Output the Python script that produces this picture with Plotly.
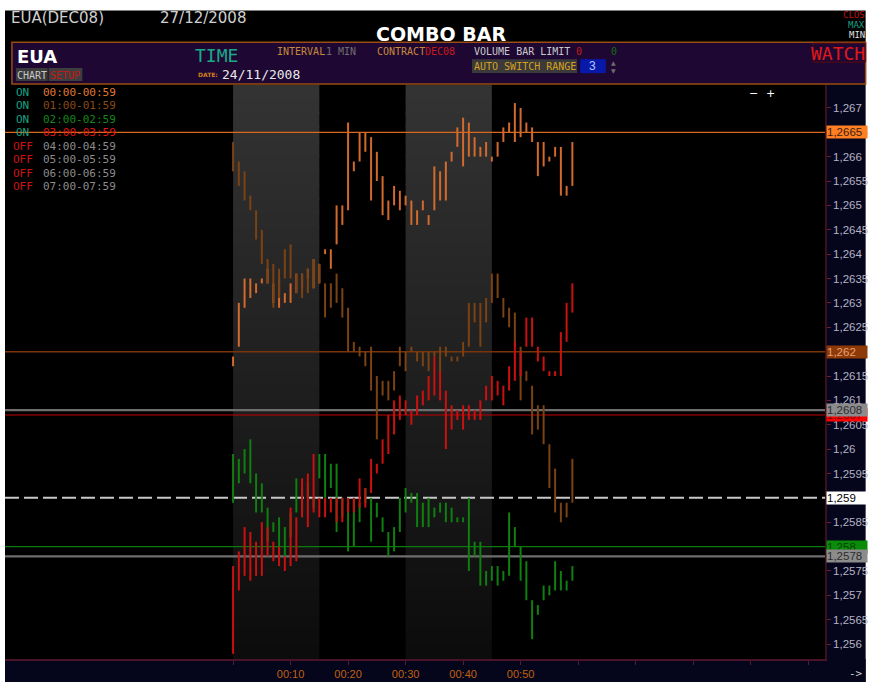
import plotly.graph_objects as go

# ---------------- data ----------------
MINUTES = list(range(60))

H0_LOW = [1.2617, 1.2621, 1.2629, 1.2631, 1.2632, 1.2634, 1.2634, 1.2630, 1.2629, 1.2630,
          1.2630, 1.2632, 1.2633, 1.2635, 1.2633, 1.2634, 1.2640, 1.2637, 1.2642, 1.2646,
          1.2649, 1.2657, 1.2659, 1.2661, 1.2651, 1.2655, 1.2648, 1.2647, 1.2650, 1.2649,
          1.2650, 1.2646, 1.2646, 1.2649, 1.2646, 1.2649, 1.2651, 1.2651, 1.2659, 1.2662,
          1.2658, 1.2660, 1.2660, 1.2660, 1.2660, 1.2659, 1.2660, 1.2663, 1.2665, 1.2663,
          1.2664, 1.2665, 1.2663, 1.2656, 1.2658, 1.2659, 1.2660, 1.2652, 1.2652, 1.2654]
H0_HIGH = [1.2619, 1.2630, 1.2635, 1.2635, 1.2634, 1.2635, 1.2637, 1.2634, 1.2635, 1.2632,
           1.2634, 1.2636, 1.2636, 1.2637, 1.2639, 1.2638, 1.2641, 1.2641, 1.2650, 1.2650,
           1.2667, 1.2659, 1.2665, 1.2665, 1.2664, 1.2661, 1.2656, 1.2651, 1.2654, 1.2653,
           1.2652, 1.2651, 1.2649, 1.2651, 1.2648, 1.2658, 1.2657, 1.2659, 1.2661, 1.2666,
           1.2668, 1.2667, 1.2664, 1.2662, 1.2663, 1.2660, 1.2663, 1.2666, 1.2667, 1.2671,
           1.2670, 1.2667, 1.2666, 1.2663, 1.2663, 1.2660, 1.2662, 1.2662, 1.2654, 1.2663]

H1_LOW = [1.2657, 1.2654, 1.2651, 1.2649, 1.2643, 1.2638, 1.2634, 1.2629, 1.2631, 1.2635,
          1.2635, 1.2632, 1.2631, 1.2632, 1.2633, 1.2634, 1.2627, 1.2629, 1.2630, 1.2627,
          1.2620, 1.2620, 1.2619, 1.2617, 1.2612, 1.2602, 1.2611, 1.2610, 1.2612, 1.2617,
          1.2616, 1.2620, 1.2618, 1.2617, 1.2616, 1.2619, 1.2616, 1.2619, 1.2618, 1.2618,
          1.2619, 1.2621, 1.2626, 1.2621, 1.2626, 1.2630, 1.2631, 1.2627, 1.2625, 1.2621,
          1.2610, 1.2614, 1.2603, 1.2604, 1.2601, 1.2592, 1.2587, 1.2585, 1.2586, 1.2589]
H1_HIGH = [1.2663, 1.2659, 1.2657, 1.2652, 1.2649, 1.2645, 1.2639, 1.2638, 1.2637, 1.2641,
           1.2642, 1.2636, 1.2636, 1.2637, 1.2639, 1.2638, 1.2634, 1.2634, 1.2636, 1.2633,
           1.2629, 1.2622, 1.2621, 1.2620, 1.2621, 1.2615, 1.2614, 1.2614, 1.2616, 1.2621,
           1.2620, 1.2621, 1.2620, 1.2620, 1.2620, 1.2620, 1.2621, 1.2621, 1.2619, 1.2619,
           1.2622, 1.2630, 1.2630, 1.2630, 1.2631, 1.2636, 1.2636, 1.2631, 1.2629, 1.2628,
           1.2621, 1.2616, 1.2613, 1.2609, 1.2609, 1.2601, 1.2596, 1.2589, 1.2589, 1.2598]

H2_LOW = [1.2589, 1.2593, 1.2595, 1.2593, 1.2587, 1.2587, 1.2581, 1.2583, 1.2578, 1.2578,
          1.2582, 1.2587, 1.2587, 1.2590, 1.2588, 1.2594, 1.2590, 1.2592, 1.2583, 1.2586,
          1.2579, 1.2580, 1.2585, 1.2589, 1.2581, 1.2586, 1.2583, 1.2578, 1.2579, 1.2583,
          1.2587, 1.2589, 1.2584, 1.2584, 1.2584, 1.2586, 1.2587, 1.2585, 1.2585, 1.2585,
          1.2585, 1.2575, 1.2578, 1.2572, 1.2572, 1.2573, 1.2572, 1.2573, 1.2574, 1.2580,
          1.2573, 1.2569, 1.2561, 1.2566, 1.2569, 1.2570, 1.2571, 1.2571, 1.2571, 1.2573]
H2_HIGH = [1.2599, 1.2598, 1.2600, 1.2602, 1.2595, 1.2593, 1.2588, 1.2585, 1.2586, 1.2584,
           1.2587, 1.2594, 1.2592, 1.2593, 1.2590, 1.2599, 1.2599, 1.2597, 1.2597, 1.2590,
           1.2589, 1.2590, 1.2589, 1.2592, 1.2590, 1.2589, 1.2586, 1.2583, 1.2584, 1.2590,
           1.2592, 1.2591, 1.2591, 1.2589, 1.2590, 1.2588, 1.2589, 1.2589, 1.2588, 1.2586,
           1.2586, 1.2590, 1.2581, 1.2581, 1.2575, 1.2576, 1.2576, 1.2575, 1.2587, 1.2584,
           1.2580, 1.2577, 1.2569, 1.2568, 1.2572, 1.2572, 1.2577, 1.2575, 1.2573, 1.2576]

H3_LOW = [1.2558, 1.2571, 1.2574, 1.2573, 1.2574, 1.2574, 1.2578, 1.2577, 1.2576, 1.2575,
          1.2576, 1.2577, 1.2586, 1.2584, 1.2587, 1.2586, 1.2586, 1.2587, 1.2585, 1.2585,
          1.2587, 1.2587, 1.2588, 1.2588, 1.2591, 1.2595, 1.2597, 1.2599, 1.2603, 1.2606,
          1.2607, 1.2605, 1.2607, 1.2609, 1.2610, 1.2611, 1.2610, 1.2600, 1.2604, 1.2606,
          1.2604, 1.2606, 1.2606, 1.2606, 1.2610, 1.2610, 1.2611, 1.2609, 1.2612, 1.2614,
          1.2615, 1.2621, 1.2621, 1.2618, 1.2616, 1.2615, 1.2615, 1.2615, 1.2622, 1.2628]
H3_HIGH = [1.2576, 1.2579, 1.2584, 1.2583, 1.2581, 1.2585, 1.2584, 1.2581, 1.2580, 1.2578,
           1.2588, 1.2586, 1.2594, 1.2595, 1.2599, 1.2590, 1.2590, 1.2590, 1.2590, 1.2590,
           1.2590, 1.2590, 1.2594, 1.2592, 1.2598, 1.2597, 1.2602, 1.2607, 1.2610, 1.2611,
           1.2610, 1.2608, 1.2611, 1.2612, 1.2615, 1.2619, 1.2616, 1.2612, 1.2609, 1.2608,
           1.2609, 1.2609, 1.2608, 1.2610, 1.2613, 1.2615, 1.2614, 1.2613, 1.2617, 1.2622,
           1.2620, 1.2627, 1.2627, 1.2621, 1.2619, 1.2616, 1.2616, 1.2624, 1.2630, 1.2634]

SERIES_LOW = [H0_LOW, H1_LOW, H2_LOW, H3_LOW]
SERIES_HIGH = [H0_HIGH, H1_HIGH, H2_HIGH, H3_HIGH]
SERIES_COLORS = ["#d2692d", "#7b4213", "#0f7f0f", "#cc1010"]

SESSIONS = ["00:00-00:59", "01:00-01:59", "02:00-02:59", "03:00-03:59",
            "04:00-04:59", "05:00-05:59", "06:00-06:59", "07:00-07:59"]
SESSION_STATE = ["ON", "ON", "ON", "ON", "OFF", "OFF", "OFF", "OFF"]
SESSION_COLORS = ["#e07a32", "#8a4a12", "#138a13", "#e01414",
                  "#8c8c8c", "#8c8c8c", "#8c8c8c", "#8c8c8c"]

BAND_SPANS = [(0, 15), (30, 45)]

X_TICKS = [0, 10, 20, 30, 40, 50, 60, 70, 80, 90, 100]
X_TICKTEXT = ["", "00:10", "00:20", "00:30", "00:40", "00:50", "", "", "", "", ""]

Y_TICKS = [1.256, 1.2565, 1.257, 1.2575, 1.258, 1.2585, 1.259, 1.2595, 1.26, 1.2605,
           1.261, 1.2615, 1.262, 1.2625, 1.263, 1.2635, 1.264, 1.2645, 1.265, 1.2655,
           1.266, 1.2665, 1.267]
Y_TICKTEXT = ["1,256", "1,2565", "1,257", "1,2575", "1,258", "1,2585", "1,259", "1,2595",
              "1,26", "1,2605", "1,261", "1,2615", "1,262", "1,2625", "1,263", "1,2635",
              "1,264", "1,2645", "1,265", "1,2655", "1,266", "1,2665", "1,267"]

# price levels (drawn in this order)
LEVELS = [1.2665, 1.262, 1.2607, 1.2608, 1.259, 1.258, 1.2578]
LEVEL_TEXT = ["1,2665", "1,262", "1,2607", "1,2608", "1,259", "1,258", "1,2578"]
LEVEL_LINE = ["#d8681e", "#7a3408", "#c00000", "#6e6e6e", "#c8c8c8", "#0c7a0c", "#6e6e6e"]
LEVEL_WIDTH = [1.2, 1.5, 1.2, 2.2, 2, 1.2, 2.2]
LEVEL_DASH = ["solid", "solid", "solid", "solid", "14px,5px", "solid", "solid"]
LEVEL_BOX = ["#ff7f22", "#8e3a08", "#ff0000", "#8c8c8c", "#ffffff", "#0a8c0a", "#8c8c8c"]
LEVEL_FONT = ["#3c2010", "#e8a070", "#700000", "#2c2c2c", "#000000", "#064006", "#2c2c2c"]

X_RANGE = [-39.66, 102.93]
Y_RANGE = [1.255694, 1.26747]

# ---------------- geometry helpers (page pixels -> paper) ----------------
W, H = 873, 685
L, R, T, B = 5, 832, 85, 662


def PX(x):
    return (x - L) / (R - L)


def PY(y):
    return (B - y) / (B - T)


MONO = "DejaVu Sans Mono"
SANS = "DejaVu Sans"
ARIAL = "Liberation Sans"

fig = go.Figure()

# bars
for lows, highs, col in zip(SERIES_LOW, SERIES_HIGH, SERIES_COLORS):
    xs, ys = [], []
    for m, lo, hi in zip(MINUTES, lows, highs):
        xs += [m, m, None]
        ys += [lo, hi, None]
    fig.add_trace(go.Scatter(x=xs, y=ys, mode="lines", line=dict(color=col, width=2),
                             hoverinfo="skip", showlegend=False))

shapes = []
# header / frame pieces (kept inside the page)
shapes.append(dict(type="rect", xref="paper", yref="paper", x0=PX(5), x1=PX(W), y0=PY(T), y1=PY(10),
                   fillcolor="#000000", line=dict(width=0), layer="below"))
shapes.append(dict(type="rect", xref="paper", yref="paper", x0=PX(12), x1=PX(W), y0=PY(84), y1=PY(42),
                   fillcolor="#1e0833", line=dict(color="#9a4c12", width=1.5), layer="below"))
shapes.append(dict(type="rect", xref="paper", yref="paper", x0=PX(832), x1=PX(W), y0=PY(H), y1=PY(T),
                   fillcolor="#05051c", line=dict(width=0), layer="below"))
shapes.append(dict(type="rect", xref="paper", yref="paper", x0=PX(5), x1=PX(W), y0=PY(H), y1=PY(B),
                   fillcolor="#05051c", line=dict(width=0), layer="below"))
for x0, x1, col in [(16, 48, "#3a3a3a"), (49, 83, "#3e3e3e"), (476, 582, "#3a3a3a"), (585, 611, "#0818a8")]:
    y0, y1 = (81, 68) if x0 < 100 else (73, 59)
    shapes.append(dict(type="rect", xref="paper", yref="paper", x0=PX(x0), x1=PX(x1), y0=PY(y0), y1=PY(y1),
                       fillcolor=col, line=dict(width=0), layer="above"))
shapes.append(dict(type="rect", xref="paper", yref="paper", x0=PX(820), x1=PX(W), y0=PY(62), y1=PY(43),
                   fillcolor="rgba(0,0,0,0)", line=dict(color="#5a0a10", width=1), layer="above"))

# gradient bands
N = 40
for a, b in BAND_SPANS:
    for i in range(N):
        g = int(12 + (52 - 12) * (i + 0.5) / N)
        shapes.append(dict(type="rect", xref="x", yref="paper", x0=a, x1=b,
                           y0=i / N, y1=min(1, (i + 1) / N + 0.003),
                           fillcolor=f"rgb({g},{g},{g})", line=dict(width=0), layer="below"))

# level lines
for lvl, col, w, d in zip(LEVELS, LEVEL_LINE, LEVEL_WIDTH, LEVEL_DASH):
    shapes.append(dict(type="line", xref="paper", yref="y", x0=0, x1=1, y0=lvl, y1=lvl,
                       line=dict(color=col, width=w, dash=d), layer="below"))

ann = []


def txt(x, y, s, color, size, family=MONO, xanchor="left"):
    ann.append(dict(x=PX(x), y=PY(y), xref="paper", yref="paper", xanchor=xanchor, yanchor="middle",
                    text=s, showarrow=False, font=dict(color=color, size=size, family=family)))


# header texts
txt(9, 18, "EUA(DEC08)", "#d0d0d0", 15, SANS)
txt(159, 18, "27/12/2008", "#d0d0d0", 15, SANS)
txt(445, 34, "<b>COMBO BAR</b>", "#ffffff", 19, SANS, "center")
txt(15, 56, "<b>EUA</b>", "#ffffff", 18, SANS)
txt(32, 75, "CHART", "#c8c8c8", 10, MONO, "center")
txt(66, 75, "SETUP", "#c81818", 10, MONO, "center")
txt(195, 55, "TIME", "#1aaa8a", 18, MONO)
txt(198, 74, "<b>DATE:</b>", "#d08020", 6, SANS)
txt(222, 74, "24/11/2008", "#e8e8e8", 13, MONO)
txt(277, 51, "INTERVAL", "#c8883a", 10, MONO)
txt(327, 51, "1 MIN", "#6e6e6e", 10, MONO)
txt(378, 51, "CONTRACT", "#c8883a", 10, MONO)
txt(427, 51, "DEC08", "#c81818", 10, MONO)
txt(476, 51, "VOLUME BAR LIMIT", "#c8c8c8", 10, MONO)
txt(579, 51, "0", "#c81818", 10, MONO)
txt(614, 51, "0", "#107010", 10, MONO)
txt(476, 66, "AUTO SWITCH RANGE", "#d8a020", 10, MONO)
txt(598, 66, "3", "#b0c8ff", 12, ARIAL, "center")
txt(619, 62, "▲", "#6e6e6e", 6, SANS, "center")
txt(619, 70, "▼", "#6e6e6e", 6, SANS, "center")
txt(874, 53, "WATCH", "#e01818", 18, MONO, "right")
txt(874, 15, "CLOS", "#c01010", 9, MONO, "right")
txt(874, 25, "MAX", "#18a080", 9, MONO, "right")
txt(874, 35, "MIN", "#e0e0e0", 9, MONO, "right")
txt(760, 94, "−", "#ffffff", 11, SANS, "center")
txt(777, 94, "+", "#ffffff", 11, SANS, "center")
txt(854, 677, "->", "#d0d0d0", 11, MONO)

# session legend
for i, (state, label, col) in enumerate(zip(SESSION_STATE, SESSIONS, SESSION_COLORS)):
    y = 92.5 + i * 13.5
    txt(23, y, state, "#18a080" if state == "ON" else "#d01010", 11, MONO, "center")
    txt(41, y, label, col, 11, MONO)

# level boxes on price axis
for lvl, s, bg, fc in zip(LEVELS, LEVEL_TEXT, LEVEL_BOX, LEVEL_FONT):
    ann.append(dict(x=PX(833), y=lvl, xref="paper", yref="y", xanchor="left", yanchor="middle",
                    text=s, showarrow=False, bgcolor=bg, width=40, height=12, align="left", borderpad=0,
                    font=dict(color=fc, size=11.5, family=ARIAL)))

fig.update_layout(
    width=W, height=H, autosize=False,
    margin=dict(l=L, r=W - R, t=T, b=H - B, pad=0),
    paper_bgcolor="#ffffff", plot_bgcolor="#000000",
    showlegend=False, shapes=shapes, annotations=ann,
    xaxis=dict(range=X_RANGE, tickvals=X_TICKS, ticktext=X_TICKTEXT, showgrid=False, zeroline=False,
               showline=True, linecolor="#4a1428", linewidth=1.5, ticks="outside", ticklen=4,
               tickcolor="#5a1a2a", tickfont=dict(color="#c0620e", size=11, family=ARIAL)),
    yaxis=dict(range=Y_RANGE, side="right", tickvals=Y_TICKS, ticktext=Y_TICKTEXT, showgrid=False,
               zeroline=False, showline=True, linecolor="#3a1020", linewidth=1.5, ticks="outside",
               ticklen=4, tickcolor="#6a2030", tickfont=dict(color="#b4b4c4", size=11.5, family=ARIAL)),
)

fig.write_html(
    "out.html", config={"displayModeBar": False},
    post_script="document.documentElement.style.margin='0px';document.body.style.margin='0px';"
                "document.documentElement.style.overflow='hidden';document.body.style.overflow='hidden';")
